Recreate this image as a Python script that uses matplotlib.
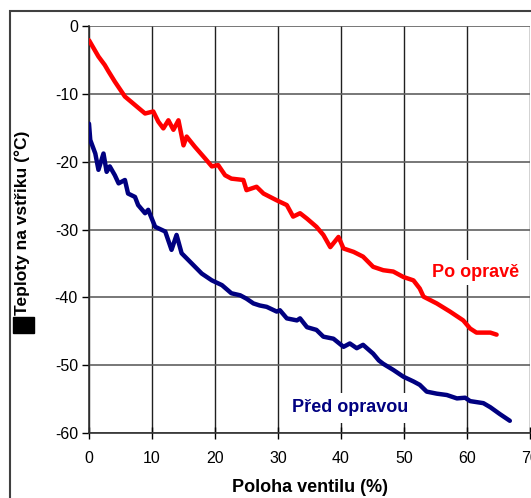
import matplotlib
matplotlib.use("Agg")
import matplotlib.pyplot as plt
from matplotlib.patches import Rectangle

# Teploty po opravě (red)
po_x = [0, 1.5, 2.5, 3.1, 4.1, 5.7, 7.3, 8.9, 10.2, 11.0, 11.8, 12.6, 13.4, 14.2,
        15.0, 15.5, 16.8, 18.4, 19.5, 20.5, 21.6, 22.6, 24.5, 25.0, 26.6, 27.7,
        29.8, 31.4, 32.4, 33.5, 34.6, 36.1, 37.2, 38.3, 39.6, 40.4, 42.0, 43.5,
        45.1, 46.7, 48.3, 49.9, 51.5, 52.5, 53.1, 55.2, 57.3, 59.4, 60.5, 61.5,
        63.7, 64.7]
po_y = [-2.1, -4.5, -5.75, -6.7, -8.2, -10.4, -11.65, -12.9, -12.6, -14.1, -15.1,
        -13.9, -15.3, -13.9, -17.6, -16.3, -17.8, -19.5, -20.7, -20.5, -22.0,
        -22.5, -22.7, -24.2, -23.7, -24.7, -25.7, -26.4, -28.1, -27.6, -28.4,
        -29.6, -30.8, -32.6, -31.1, -32.8, -33.3, -34.0, -35.5, -36.0, -36.2,
        -37.0, -37.5, -38.7, -39.9, -40.9, -42.1, -43.4, -44.6, -45.2, -45.2,
        -45.5]

# Teploty před opravou (navy)
pred_x = [0, 0.2, 1.0, 1.5, 2.3, 2.8, 3.3, 4.1, 4.7, 5.7, 6.2, 7.3, 7.8, 8.9, 9.4,
          10.5, 12.1, 13.1, 13.9, 14.7, 16.3, 17.9, 19.5, 21.1, 22.6, 24.0, 25.0,
          26.1, 27.1, 28.2, 29.8, 30.3, 31.4, 33.0, 33.5, 34.6, 36.1, 37.2, 38.8,
          40.4, 41.4, 42.5, 43.5, 45.1, 46.0, 46.7, 48.3, 49.9, 51.5, 52.5, 53.6,
          55.2, 56.8, 58.4, 59.7, 60.5, 62.6, 63.7, 65.2, 66.8]
pred_y = [-14.4, -16.8, -18.8, -21.2, -18.8, -21.5, -20.7, -22.0, -23.2, -22.7,
          -24.7, -25.2, -26.4, -27.6, -27.1, -29.6, -30.3, -33.0, -30.8, -33.5,
          -35.0, -36.5, -37.5, -38.2, -39.4, -39.7, -40.2, -40.9, -41.2, -41.4,
          -42.1, -41.9, -43.1, -43.4, -43.1, -44.4, -44.8, -45.8, -46.1, -47.3,
          -46.8, -47.5, -47.0, -48.3, -49.3, -49.8, -50.7, -51.7, -52.4, -52.9,
          -53.9, -54.2, -54.4, -54.9, -54.8, -55.3, -55.6, -56.2, -57.2, -58.2]

x_ticks = [0, 10, 20, 30, 40, 50, 60, 70]
y_ticks = [0, -10, -20, -30, -40, -50, -60]

plt.rcParams["font.family"] = ["Liberation Sans", "DejaVu Sans"]
plt.rcParams["axes.unicode_minus"] = False

fig = plt.figure(figsize=(5.31, 4.98), dpi=100)
ax = fig.add_axes([89 / 531, 1 - 433 / 498, 441 / 531, 407 / 498])

ax.plot(po_x, po_y, color="#ff0000", lw=3.2, solid_joinstyle="round",
        solid_capstyle="round", zorder=3)
ax.plot(pred_x, pred_y, color="#000080", lw=3.2, solid_joinstyle="round",
        solid_capstyle="round", zorder=3)

ax.set_xlim(0, 70)
ax.set_ylim(-60, 0)
ax.set_xticks(x_ticks)
ax.set_yticks(y_ticks)
ax.tick_params(axis="x", direction="inout", length=8, width=1, labelsize=11.5, pad=9)
ax.tick_params(axis="y", direction="out", length=5, width=1, labelsize=11.5, pad=3)

ax.grid(axis="x", color="#202020", lw=1, zorder=1)
ax.grid(axis="y", color="#606060", lw=1.2, zorder=1)
for s in ["top", "right"]:
    ax.spines[s].set_visible(False)
for s in ["left", "bottom"]:
    ax.spines[s].set_color("#303030")
    ax.spines[s].set_linewidth(1.2)

ax.text(61.3, -36.3, "Po opravě", color="#ff0000", fontsize=13, fontweight="bold",
        ha="center", va="center", zorder=4,
        bbox=dict(facecolor="white", edgecolor="none", pad=3))
ax.text(41.4, -56.3, "Před opravou", color="#000080", fontsize=13, fontweight="bold",
        ha="center", va="center", zorder=4,
        bbox=dict(facecolor="white", edgecolor="none", pad=5))

ax.set_xlabel("Poloha ventilu (%)", fontsize=13, fontweight="bold", labelpad=9)
fig.text(22 / 531, 1 - 315 / 498, "Teploty na vstřiku (°C)", rotation=90,
         fontsize=12.5, fontweight="bold", ha="center", va="bottom")
fig.patches.append(Rectangle((13 / 531, 1 - 333 / 498), 21 / 531, 16 / 498,
                             transform=fig.transFigure, color="black"))

# outer frame
fig.patches.append(Rectangle((10 / 531, -0.1), 1.2, 1 - 11 / 498 + 0.1,
                             transform=fig.transFigure, fill=False,
                             edgecolor="#404040", lw=1.5))

fig.savefig("out.png", dpi=100)
